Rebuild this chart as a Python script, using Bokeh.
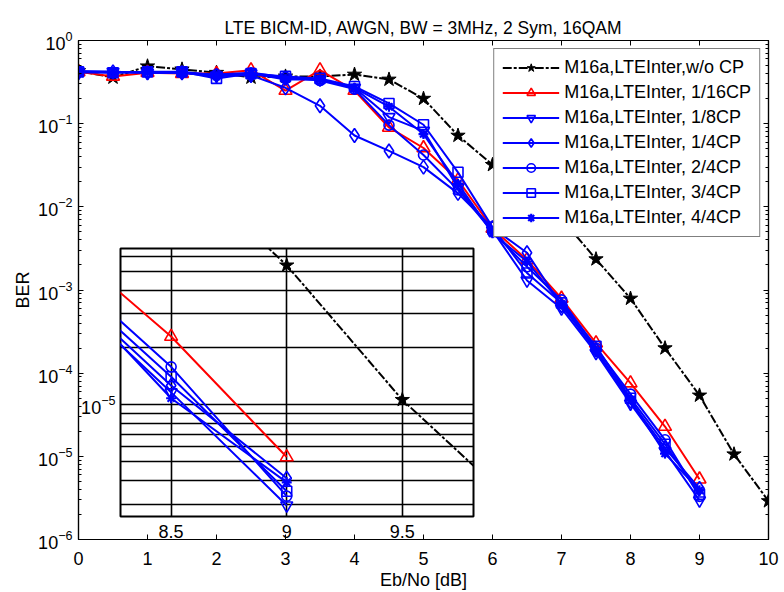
from bokeh.embed import file_html
from bokeh.models import (FixedTicker, GridBox, Legend, LegendItem, LinearAxis,
                          LogAxis, LogTicker, PrintfTickFormatter, Range1d)
from bokeh.plotting import figure
from bokeh.resources import INLINE

FONT = "Liberation Sans"
FS = "18px"

# Eb/No grid (dB)
ebno = [0.0, 0.5, 1.0, 1.5, 2.0, 2.5, 3.0, 3.5, 4.0, 4.5, 5.0, 5.5, 6.0,
        6.5, 7.0, 7.5, 8.0, 8.5, 9.0]
ebno_nocp = [0.0, 0.5, 1.0, 1.5, 2.0, 2.5, 3.0, 3.5, 4.0, 4.5, 5.0, 5.5, 6.0,
             6.5, 7.0, 7.5, 8.0, 8.5, 9.0, 9.5, 10.0]

# simulated BER curves
ber_nocp = [0.43, 0.36, 0.49, 0.45, 0.41, 0.36, 0.37, 0.37, 0.39, 0.34, 0.20,
            0.072, 0.032, 0.017, 0.0072, 0.00235, 0.00079, 0.00020, 5.4e-5,
            1.06e-5, 2.9e-6]
ber_1_16 = [0.42, 0.37, 0.41, 0.40, 0.40, 0.44, 0.25, 0.44, 0.25, 0.090, 0.051,
            0.021, 0.0055, 0.0023, 0.00079, 0.00023, 7.6e-5, 2.28e-5, 5.3e-6]
ber_1_8 = [0.42, 0.42, 0.41, 0.42, 0.38, 0.40, 0.35, 0.34, 0.27, 0.12, 0.082,
           0.017, 0.0052, 0.0013, 0.00060, 0.000175, 4.3e-5, 1.16e-5, 2.95e-6]
ber_1_4 = [0.41, 0.42, 0.41, 0.41, 0.38, 0.38, 0.27, 0.164, 0.072, 0.047, 0.030,
           0.0145, 0.0056, 0.0028, 0.00065, 0.00019, 4.6e-5, 1.26e-5, 4.1e-6]
ber_2_4 = [0.42, 0.41, 0.42, 0.41, 0.39, 0.41, 0.36, 0.33, 0.26, 0.096, 0.042,
           0.016, 0.0050, 0.0019, 0.00076, 0.00020, 5.6e-5, 1.58e-5, 3.3e-6]
ber_3_4 = [0.42, 0.41, 0.42, 0.42, 0.35, 0.40, 0.37, 0.35, 0.28, 0.175, 0.097,
           0.026, 0.0057, 0.0016, 0.00070, 0.00021, 5.0e-5, 1.40e-5, 3.5e-6]
ber_4_4 = [0.43, 0.42, 0.41, 0.41, 0.37, 0.40, 0.34, 0.34, 0.27, 0.16, 0.075,
           0.019, 0.0048, 0.0022, 0.00068, 0.000185, 4.8e-5, 1.08e-5, 3.9e-6]

labels = ["M16a,LTEInter,w/o CP", "M16a,LTEInter, 1/16CP", "M16a,LTEInter, 1/8CP",
          "M16a,LTEInter, 1/4CP", "M16a,LTEInter, 2/4CP", "M16a,LTEInter, 3/4CP",
          "M16a,LTEInter, 4/4CP"]

x_ticks = [0, 1, 2, 3, 4, 5, 6, 7, 8, 9, 10]
inset_x_ticks = [8.5, 9.0, 9.5]
inset_y_major = [1e-5]
inset_y_minor = [3e-6, 4e-6, 5e-6, 6e-6, 7e-6, 8e-6, 9e-6,
                 2e-5, 3e-5, 4e-5, 5e-5, 6e-5]

title_text = "LTE BICM-ID, AWGN, BW = 3MHz, 2 Sym, 16QAM"

# (label, x, y, color, marker, dash, marker size, filled)
series = [
    (labels[0], ebno_nocp, ber_nocp, "black", "star", "9 2 3 2", 15, True),
    (labels[1], ebno, ber_1_16, "#ff0000", "triangle", "solid", 13, False),
    (labels[2], ebno, ber_1_8, "#0000ff", "inverted_triangle", "solid", 12, False),
    (labels[3], ebno, ber_1_4, "#0000ff", "diamond", "solid", 14, False),
    (labels[4], ebno, ber_2_4, "#0000ff", "circle", "solid", 10, False),
    (labels[5], ebno, ber_3_4, "#0000ff", "square", "solid", 10, False),
    (labels[6], ebno, ber_4_4, "#0000ff", "asterisk", "solid", 10, False),
]


def draw_curves(fig):
    out = []
    for lab, xs, ys, col, mk, dash, sz, filled in series:
        ln = fig.line(xs, ys, line_color=col, line_width=2, line_dash=dash)
        sc = fig.scatter(xs, ys, marker=mk, size=sz, line_color=col,
                         line_width=1 if filled else (2.2 if mk == "asterisk" else 1.6),
                         fill_color=col if filled else None)
        out.append((lab, [ln, sc]))
    return out


def style_axis(ax, labels_on=True):
    ax.axis_line_color = "black"
    ax.axis_line_width = 1.2
    ax.major_tick_line_color = "black"
    ax.minor_tick_line_color = "black"
    ax.major_tick_in = 5
    ax.major_tick_out = 0
    ax.minor_tick_in = 3
    ax.minor_tick_out = 0
    ax.major_label_text_font = FONT
    ax.major_label_text_font_size = FS
    ax.major_label_text_color = "black"
    ax.axis_label_text_font = FONT
    ax.axis_label_text_font_size = FS
    ax.axis_label_text_font_style = "normal"
    ax.axis_label_text_color = "black"
    if not labels_on:
        ax.formatter = PrintfTickFormatter(format="")
        ax.major_label_standoff = 0


# ---- main axes ----
p = figure(width=784, height=592, x_range=Range1d(0, 10),
           y_range=Range1d(1e-6, 1), y_axis_type="log",
           output_backend="svg", toolbar_location=None,
           min_border_left=78, min_border_right=16, min_border_top=40,
           min_border_bottom=52, background_fill_color="white",
           border_fill_color="white", outline_line_color="black",
           outline_line_width=1.2)
p.title.text = title_text
p.title.align = "center"
p.title.text_font = FONT
p.title.text_font_size = "17.5px"
p.title.text_font_style = "normal"
p.title.text_color = "black"
p.title.offset = 0
p.title.standoff = 6
p.xgrid.visible = False
p.ygrid.visible = False

p.xaxis.ticker = FixedTicker(ticks=x_ticks)
p.xaxis.axis_label = "Eb/No [dB]"
p.yaxis.axis_label = "BER"
p.yaxis.ticker = LogTicker(mantissas=[1], desired_num_ticks=7, num_minor_ticks=10)
style_axis(p.xaxis[0])
style_axis(p.yaxis[0])
p.xaxis.major_label_standoff = 12
p.xaxis.axis_label_standoff = 2
p.yaxis.major_label_standoff = 6
p.yaxis.axis_label_standoff = 2

top_ax = LinearAxis(ticker=FixedTicker(ticks=x_ticks))
style_axis(top_ax, labels_on=False)
p.add_layout(top_ax, "above")
right_ax = LogAxis(ticker=LogTicker(mantissas=[1], desired_num_ticks=7,
                                    num_minor_ticks=10))
style_axis(right_ax, labels_on=False)
p.add_layout(right_ax, "right")

items = draw_curves(p)
legend = Legend(items=[LegendItem(label=lab, renderers=rs) for lab, rs in items],
                location="top_right", margin=8, padding=8, spacing=4,
                glyph_width=57, glyph_height=21, label_height=21,
                label_standoff=5, label_text_font=FONT, label_text_font_size=FS,
                label_text_color="black", border_line_color="black",
                border_line_width=1.2, background_fill_color="white",
                background_fill_alpha=1.0)
p.add_layout(legend)

# ---- zoomed inset around 8.5 - 9.5 dB ----
inset = figure(frame_width=353, frame_height=268, x_range=Range1d(8.281, 9.808),
               y_range=Range1d(2.58e-6, 6.62e-5), y_axis_type="log",
               output_backend="svg", toolbar_location=None, title=None,
               min_border_left=40, min_border_right=4, min_border_top=4,
               min_border_bottom=30, border_fill_color=None,
               background_fill_color="white", outline_line_color="black",
               outline_line_width=2)
inset.xaxis.ticker = FixedTicker(ticks=inset_x_ticks)
inset.yaxis.ticker = FixedTicker(ticks=inset_y_major, minor_ticks=inset_y_minor)
for ax in (inset.xaxis[0], inset.yaxis[0]):
    style_axis(ax)
    ax.axis_line_color = None
    ax.major_tick_in = 0
    ax.minor_tick_in = 0
inset.xaxis.major_label_standoff = 8
inset.yaxis.major_label_standoff = 5
inset.xgrid.grid_line_color = "black"
inset.xgrid.grid_line_width = 1.6
inset.ygrid.grid_line_color = "black"
inset.ygrid.grid_line_width = 1.6
inset.ygrid.minor_grid_line_color = "black"
inset.ygrid.minor_grid_line_width = 1.6
draw_curves(inset)

layout = GridBox(children=[(p, 0, 0, 2, 2), (inset, 1, 1, 1, 1)],
                 rows=["244px", "348px"], cols=["78px", "706px"], spacing=0)

open("out.html", "w").write(file_html(layout, INLINE))
